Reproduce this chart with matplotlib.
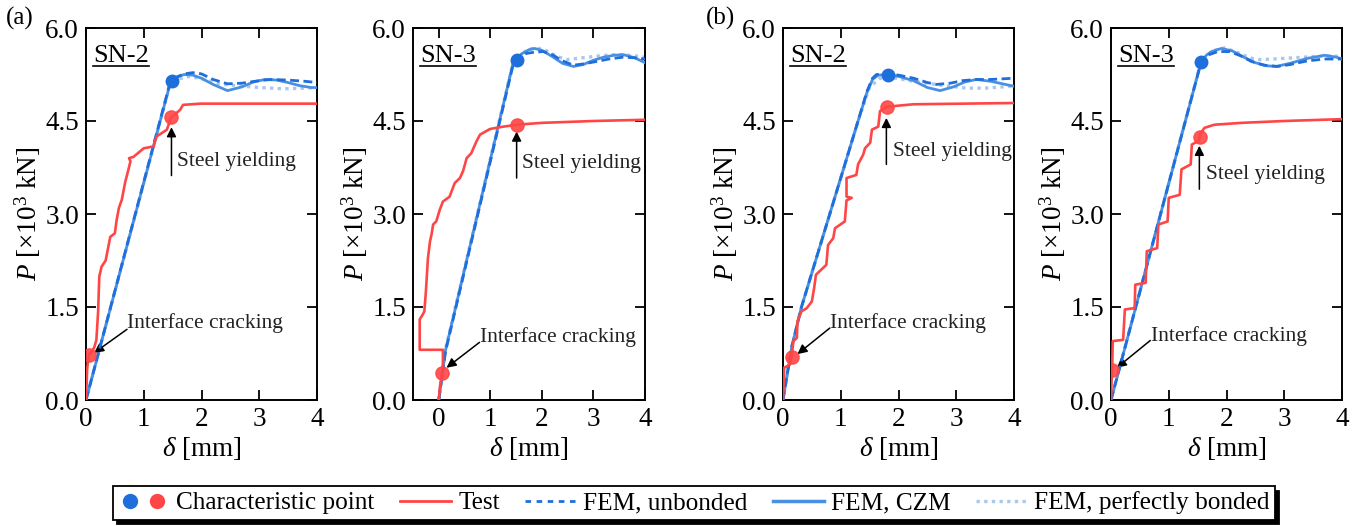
import numpy as np
import matplotlib
matplotlib.use("Agg")
import matplotlib.pyplot as plt
from matplotlib.lines import Line2D
from matplotlib.legend_handler import HandlerTuple

plt.rcParams['font.family'] = ['Liberation Serif', 'DejaVu Serif']
plt.rcParams['mathtext.fontset'] = 'custom'
plt.rcParams['mathtext.rm'] = 'Liberation Serif'
plt.rcParams['mathtext.it'] = 'Liberation Serif:italic'

# ---------------- data ----------------
panel_titles = ["SN-2", "SN-3", "SN-2", "SN-3"]
group_labels = ["(a)", "(b)"]
y_ticks = [0.0, 1.5, 3.0, 4.5, 6.0]
x_ticks = [0, 1, 2, 3, 4]

# (a) SN-2
a2_test_x = [0, 0.02, 0.046, 0.14, 0.18, 0.21, 0.23, 0.27, 0.34, 0.42, 0.50, 0.53, 0.57, 0.62, 0.68, 0.73, 0.77, 0.745, 0.82, 1.0, 1.17, 1.22, 1.32, 1.40, 1.46, 1.48, 1.63, 1.68, 1.98, 4.0]
a2_test_y = [0, 0.50, 0.72, 0.84, 0.97, 1.43, 1.99, 2.15, 2.25, 2.63, 2.69, 2.90, 3.10, 3.23, 3.52, 3.70, 3.85, 3.90, 3.92, 4.06, 4.09, 4.25, 4.31, 4.36, 4.52, 4.56, 4.68, 4.76, 4.78, 4.78]
a2_unb_x = [0, 1.45, 1.55, 1.70, 1.85, 2.0, 2.2, 2.45, 2.7, 3.0, 3.2, 3.5, 3.8, 4.0]
a2_unb_y = [0, 5.10, 5.20, 5.26, 5.28, 5.26, 5.17, 5.10, 5.11, 5.15, 5.17, 5.16, 5.14, 5.12]
a2_czm_x = [0, 1.45, 1.50, 1.60, 1.70, 1.85, 2.0, 2.2, 2.45, 2.7, 2.9, 3.1, 3.3, 3.5, 3.7, 3.9, 4.0]
a2_czm_y = [0, 5.08, 5.15, 5.22, 5.25, 5.24, 5.19, 5.09, 4.99, 5.05, 5.13, 5.17, 5.16, 5.12, 5.07, 5.04, 5.04]
a2_pb_x = [0, 1.45, 1.6, 1.8, 2.0, 2.3, 2.6, 3.0, 3.4, 3.8, 4.0]
a2_pb_y = [0, 5.07, 5.18, 5.22, 5.18, 5.10, 5.07, 5.04, 5.02, 5.03, 5.04]
a2_char_blue = (1.495, 5.15)
a2_char_red = [(0.046, 0.72), (1.48, 4.56)]

# (a) SN-3
a3_test_x = [0, 0.02, 0.065, 0.08, 0.08, -0.37, -0.37, -0.31, -0.28, -0.25, -0.21, -0.17, -0.14, -0.11, -0.05, 0.02, 0.08, 0.21, 0.25, 0.31, 0.41, 0.47, 0.54, 0.63, 0.73, 0.80, 0.99, 1.18, 1.51, 2.0, 3.0, 4.0]
a3_test_y = [0, 0.20, 0.44, 0.60, 0.81, 0.81, 1.30, 1.38, 1.43, 1.75, 2.29, 2.56, 2.67, 2.83, 2.88, 3.07, 3.20, 3.28, 3.37, 3.50, 3.58, 3.69, 3.90, 3.98, 4.17, 4.28, 4.37, 4.40, 4.44, 4.47, 4.50, 4.52]
a3_unb_x = [0, 0.13, 1.44, 1.55, 1.7, 1.85, 2.03, 2.2, 2.4, 2.61, 2.8, 3.06, 3.3, 3.58, 3.8, 4.0]
a3_unb_y = [0, 0.78, 5.40, 5.52, 5.59, 5.61, 5.62, 5.57, 5.47, 5.40, 5.42, 5.46, 5.50, 5.53, 5.52, 5.50]
a3_czm_x = [0, 0.13, 1.44, 1.51, 1.6, 1.75, 1.86, 2.0, 2.2, 2.4, 2.61, 2.8, 3.0, 3.2, 3.4, 3.58, 3.8, 4.0]
a3_czm_y = [0, 0.80, 5.43, 5.49, 5.58, 5.65, 5.67, 5.64, 5.54, 5.43, 5.38, 5.41, 5.48, 5.53, 5.56, 5.57, 5.52, 5.44]
a3_pb_x = [0, 0.13, 1.44, 1.6, 1.75, 1.9, 2.1, 2.3, 2.48, 2.8, 3.1, 3.4, 3.58, 3.8, 4.0]
a3_pb_y = [0, 0.82, 5.44, 5.58, 5.66, 5.68, 5.63, 5.54, 5.49, 5.52, 5.55, 5.57, 5.57, 5.55, 5.53]
a3_char_blue = (1.51, 5.49)
a3_char_red = [(0.065, 0.44), (1.51, 4.44)]

# (b) SN-2
b2_test_x = [0, 0.02, 0.12, 0.15, 0.18, 0.24, 0.25, 0.32, 0.41, 0.50, 0.54, 0.57, 0.75, 0.78, 0.87, 0.90, 1.07, 1.10, 1.19, 1.10, 1.10, 1.27, 1.30, 1.39, 1.42, 1.51, 1.54, 1.65, 1.68, 1.80, 2.26, 4.0]
b2_test_y = [0, 0.52, 0.57, 0.70, 0.95, 1.00, 1.27, 1.43, 1.48, 1.59, 1.81, 2.02, 2.18, 2.50, 2.61, 2.77, 2.88, 3.22, 3.26, 3.28, 3.58, 3.63, 3.80, 3.96, 4.06, 4.15, 4.36, 4.41, 4.66, 4.73, 4.77, 4.79]
b2_unb_x = [0, 0.15, 0.32, 0.81, 1.30, 1.45, 1.55, 1.62, 1.8, 2.0, 2.26, 2.5, 2.66, 2.9, 3.1, 3.35, 3.6, 3.8, 4.0]
b2_unb_y = [0, 0.85, 1.50, 3.00, 4.50, 4.97, 5.19, 5.25, 5.26, 5.24, 5.19, 5.12, 5.09, 5.11, 5.15, 5.17, 5.17, 5.18, 5.19]
b2_czm_x = [0, 0.15, 0.32, 0.81, 1.30, 1.45, 1.55, 1.65, 1.82, 2.0, 2.26, 2.5, 2.72, 2.95, 3.15, 3.35, 3.6, 3.8, 4.0]
b2_czm_y = [0, 0.85, 1.50, 3.00, 4.50, 4.95, 5.17, 5.24, 5.25, 5.22, 5.15, 5.04, 4.99, 5.05, 5.13, 5.17, 5.14, 5.10, 5.06]
b2_pb_x = [0, 0.15, 0.32, 0.81, 1.30, 1.5, 1.68, 1.9, 2.2, 2.49, 2.8, 3.18, 3.5, 3.8, 4.0]
b2_pb_y = [0, 0.85, 1.50, 3.00, 4.50, 5.05, 5.19, 5.20, 5.15, 5.11, 5.07, 5.03, 5.03, 5.05, 5.07]
b2_char_blue = (1.82, 5.25)
b2_char_red = [(0.15, 0.70), (1.80, 4.73)]

# (b) SN-3
b3_test_x = [0, 0.01, 0.02, 0.03, 0.21, 0.24, 0.39, 0.41, 0.42, 0.60, 0.62, 0.80, 0.82, 0.98, 1.00, 1.19, 1.22, 1.38, 1.40, 1.52, 1.55, 1.62, 1.79, 2.26, 3.0, 4.0]
b3_test_y = [0, 0.30, 0.49, 0.95, 0.97, 1.46, 1.48, 1.49, 1.86, 1.89, 2.40, 2.45, 2.83, 2.88, 3.26, 3.31, 3.72, 3.80, 4.12, 4.18, 4.30, 4.39, 4.44, 4.47, 4.50, 4.53]
b3_unb_x = [0, 1.56, 1.7, 1.85, 2.05, 2.25, 2.43, 2.65, 2.89, 3.1, 3.4, 3.7, 4.0]
b3_unb_y = [0, 5.45, 5.57, 5.62, 5.62, 5.55, 5.46, 5.40, 5.38, 5.41, 5.47, 5.50, 5.50]
b3_czm_x = [0, 1.56, 1.65, 1.74, 1.91, 2.1, 2.3, 2.5, 2.7, 2.86, 3.1, 3.4, 3.7, 3.9, 4.0]
b3_czm_y = [0, 5.45, 5.56, 5.62, 5.67, 5.63, 5.53, 5.44, 5.39, 5.38, 5.43, 5.51, 5.56, 5.53, 5.50]
b3_pb_x = [0, 1.56, 1.75, 1.97, 2.2, 2.4, 2.55, 2.8, 3.18, 3.5, 3.8, 4.0]
b3_pb_y = [0, 5.46, 5.63, 5.68, 5.60, 5.52, 5.49, 5.50, 5.52, 5.54, 5.55, 5.54]
b3_char_blue = (1.56, 5.45)
b3_char_red = [(0.02, 0.49), (1.54, 4.25)]

legend_labels = ["Characteristic point", "Test", "FEM, unbonded", "FEM, CZM", "FEM, perfectly bonded"]

# ---------------- styles ----------------
RED = '#FF4646'
BLUE_D = '#1E6FDC'
BLUE_M = '#4A90E2'
BLUE_L = '#A9C8F0'

panels = [
    dict(test=(a2_test_x, a2_test_y), unb=(a2_unb_x, a2_unb_y), czm=(a2_czm_x, a2_czm_y), pb=(a2_pb_x, a2_pb_y),
         blue=a2_char_blue, red=a2_char_red, xlim=(0, 4),
         sy=dict(tail=(1.48, 3.62), head=(1.48, 4.40), text=(1.57, 3.85)),
         ic=dict(tail=(0.71, 1.14), head=(0.14, 0.76), text=(0.71, 1.24))),
    dict(test=(a3_test_x, a3_test_y), unb=(a3_unb_x, a3_unb_y), czm=(a3_czm_x, a3_czm_y), pb=(a3_pb_x, a3_pb_y),
         blue=a3_char_blue, red=a3_char_red, xlim=(-0.5, 4),
         sy=dict(tail=(1.51, 3.58), head=(1.51, 4.33), text=(1.62, 3.82)),
         ic=dict(tail=(0.79, 0.93), head=(0.15, 0.52), text=(0.79, 1.02))),
    dict(test=(b2_test_x, b2_test_y), unb=(b2_unb_x, b2_unb_y), czm=(b2_czm_x, b2_czm_y), pb=(b2_pb_x, b2_pb_y),
         blue=b2_char_blue, red=b2_char_red, xlim=(0, 4),
         sy=dict(tail=(1.79, 3.80), head=(1.79, 4.55), text=(1.91, 4.01)),
         ic=dict(tail=(0.81, 1.16), head=(0.25, 0.74), text=(0.81, 1.24))),
    dict(test=(b3_test_x, b3_test_y), unb=(b3_unb_x, b3_unb_y), czm=(b3_czm_x, b3_czm_y), pb=(b3_pb_x, b3_pb_y),
         blue=b3_char_blue, red=b3_char_red, xlim=(0, 4),
         sy=dict(tail=(1.53, 3.40), head=(1.53, 4.10), text=(1.64, 3.63)),
         ic=dict(tail=(0.68, 0.96), head=(0.10, 0.52), text=(0.69, 1.03))),
]

W, H = 1362, 526
fig = plt.figure(figsize=(W / 100, H / 100), dpi=100)
lefts = [86, 413, 783, 1111]
rights = [317, 645, 1014, 1342]
top_px, bot_px = 28, 400

FS = 19.5
axes = []
for i, p in enumerate(panels):
    ax = fig.add_axes([lefts[i] / W, 1 - bot_px / H, (rights[i] - lefts[i]) / W, (bot_px - top_px) / H])
    axes.append(ax)
    ax.plot(*p['pb'], color=BLUE_L, lw=2.4, ls=(0, (1, 1.3)), zorder=2)
    ax.plot(*p['czm'], color=BLUE_M, lw=2.0, ls='-', zorder=3)
    ax.plot(*p['unb'], color=BLUE_D, lw=2.0, ls=(0, (3.2, 1.6)), zorder=4)
    ax.plot(*p['test'], color=RED, lw=1.9, zorder=5)
    ax.plot([p['blue'][0]], [p['blue'][1]], 'o', color=BLUE_D, ms=9, zorder=6)
    for (rx, ry) in p['red']:
        ax.plot([rx], [ry], 'o', color=RED, ms=9.5, alpha=0.9, zorder=6)
    ax.set_xlim(*p['xlim'])
    ax.set_ylim(0, 6)
    ax.set_xticks(x_ticks)
    ax.set_yticks(y_ticks)
    ax.set_yticklabels([f"{v:.1f}" for v in y_ticks])
    ax.tick_params(direction='in', top=True, right=True, length=7, width=1.3, labelsize=FS, pad=5)
    for s in ax.spines.values():
        s.set_linewidth(1.4)
    ax.set_xlabel(r'$\delta$ [mm]', fontsize=FS, labelpad=2)
    ax.set_ylabel(r'$P$ [×10$^3$ kN]', fontsize=FS, labelpad=2)
    # annotations
    ax.annotate('', xy=p['sy']['head'], xytext=p['sy']['tail'],
                arrowprops=dict(arrowstyle='-|>', color='black', lw=1.1, mutation_scale=14, shrinkA=0, shrinkB=0))
    ax.text(*p['sy']['text'], 'Steel yielding', fontsize=15.5, ha='left', va='center', color='#222222')
    ax.annotate('', xy=p['ic']['head'], xytext=p['ic']['tail'],
                arrowprops=dict(arrowstyle='-|>', color='black', lw=1.1, mutation_scale=14, shrinkA=0, shrinkB=0))
    ax.text(*p['ic']['text'], 'Interface cracking', fontsize=15.5, ha='left', va='center', color='#222222')

# title labels (underlined)
title_texts = []
for i, ax in enumerate(axes):
    t = ax.text(0.03, 0.925, panel_titles[i], transform=ax.transAxes, fontsize=19, ha='left', va='center')
    title_texts.append(t)

fig.text(6 / W, 1 - 18 / H, group_labels[0], fontsize=18, ha='left', va='center')
fig.text(706 / W, 1 - 18 / H, group_labels[1], fontsize=18, ha='left', va='center')

# legend
h_pt = (Line2D([], [], ls='none', marker='o', color=BLUE_D, ms=10),
        Line2D([], [], ls='none', marker='o', color=RED, ms=10))
h_test = Line2D([], [], color=RED, lw=2)
h_unb = Line2D([], [], color=BLUE_D, lw=2, ls=(0, (2, 2)))
h_czm = Line2D([], [], color=BLUE_M, lw=2.5)
h_pb = Line2D([], [], color=BLUE_L, lw=2.4, ls=(0, (1, 1.3)))
leg = fig.legend([h_pt, h_test, h_unb, h_czm, h_pb], legend_labels,
                 handler_map={tuple: HandlerTuple(ndivide=None, pad=0.1)},
                 loc='center', bbox_to_anchor=(694 / W, 1 - 503 / H), ncol=5,
                 fontsize=18.2, frameon=True, fancybox=False, framealpha=1,
                 edgecolor='black', handlelength=2.0, handletextpad=0.3,
                 columnspacing=1.0, borderpad=0.2,
                 shadow={'ox': 3, 'oy': -3, 'facecolor': 'black', 'edgecolor': 'black', 'alpha': 1})
leg.get_frame().set_linewidth(1.3)

# underline the specimen labels
fig.canvas.draw()
r = fig.canvas.get_renderer()
for t, ax in zip(title_texts, axes):
    bb = t.get_window_extent(renderer=r)
    inv = ax.transAxes.inverted()
    (x0, y0) = inv.transform((bb.x0, bb.y0 + 1))
    (x1, _) = inv.transform((bb.x1, bb.y0 + 1))
    ax.plot([x0, x1], [y0, y0], transform=ax.transAxes, color='black', lw=1.2, clip_on=False)

fig.savefig('out.png', dpi=100)
